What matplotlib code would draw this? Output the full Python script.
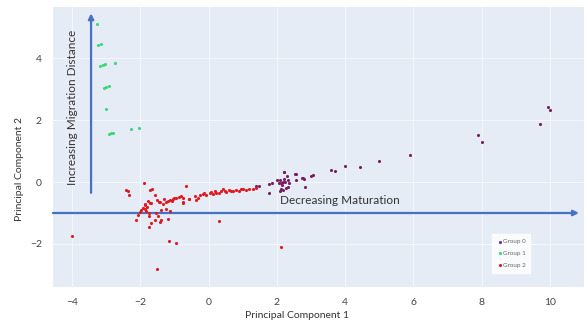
import matplotlib.pyplot as plt

plt.rcParams['font.family'] = ['Lato', 'DejaVu Sans']

# Group 0 (purple)
x0 = [9.94, 10.0, 9.70, 7.90, 8.00, 5.90, 4.98, 4.45, 4.01, 3.59, 3.70, 3.05, 3.00,
      2.81, 2.74, 2.56, 2.56, 2.29, 2.21, 2.34, 2.32, 2.17, 2.13, 2.82, 2.11, 1.39,
      1.49, 1.76, 1.78, 1.86, 2.08, 2.22, 2.54, 2.78, 2.37, 2.27, 2.17, 2.05, 2.10,
      2.15, 2.20, 2.25, 2.02]
y0 = [2.41, 2.32, 1.89, 1.53, 1.28, 0.88, 0.69, 0.49, 0.53, 0.38, 0.35, 0.23, 0.18,
      0.10, 0.13, 0.27, 0.06, 0.20, 0.33, 0.06, -0.15, 0.01, -0.04, -0.15, -0.23, -0.12,
      -0.12, -0.35, -0.06, -0.04, -0.29, 0.31, 0.26, 0.12, -0.02, -0.20, -0.26, -0.02, 0.05,
      -0.08, 0.10, 0.00, 0.08]

# Group 1 (green)
x1 = [-3.28, -3.24, -3.14, -3.17, -3.09, -3.02, -2.75, -3.06, -2.99, -2.92, -2.99,
      -2.91, -2.87, -2.80, -2.28, -2.05]
y1 = [5.12, 4.44, 4.47, 3.75, 3.77, 3.80, 3.83, 3.05, 3.07, 3.10, 2.35,
      1.55, 1.58, 1.60, 1.71, 1.76]

# Group 2 (red)
x2 = [-3.99, -2.43, -2.36, -2.34, -1.90, -1.70, -1.65, -1.58, -1.51, -1.43, -1.68, -1.87,
      -1.92, -1.97, -2.02, -2.07, -2.11, -1.87, -1.82, -1.73, -1.75, -1.53, -1.48, -1.38,
      -1.24, -1.14, -1.68, -1.58, -1.73, -1.43, -1.38, -1.19, -1.16, -0.96, -1.51, -1.29,
      -1.24, -1.19, -1.14, -1.04, -0.94, -0.85, -0.80, -0.75, -0.67, -0.75, -0.56, -0.41,
      -0.36, -0.26, -0.17, -0.07, 0.03, 0.13, 0.22, 0.32, 0.42, 0.52, 0.61, 0.71, 0.81,
      0.96, 1.10, 1.20, 1.30, 1.39, 0.30, 2.13, -1.71, -1.45, -0.75, -0.58, -1.80, -1.85,
      -1.78, 0.08, 0.18, 0.37, 0.47, 0.66, 0.88, 1.00, -0.12, -0.30, -1.06, -1.00, -1.34]
y2 = [-1.74, -0.26, -0.28, -0.42, -0.02, -0.26, -0.24, -0.42, -0.58, -0.66, -0.67, -0.74,
      -0.85, -0.90, -0.96, -1.06, -1.23, -0.88, -0.94, -1.01, -1.10, -1.01, -1.10, -0.90,
      -0.87, -0.94, -1.31, -1.23, -1.46, -1.28, -1.23, -1.20, -1.89, -1.98, -2.82, -0.56,
      -0.64, -0.60, -0.58, -0.56, -0.53, -0.47, -0.45, -0.53, -0.13, -0.64, -0.56, -0.45,
      -0.58, -0.42, -0.39, -0.42, -0.36, -0.40, -0.35, -0.36, -0.24, -0.31, -0.26, -0.28, -0.26,
      -0.24, -0.26, -0.24, -0.24, -0.20, -1.25, -2.09, -0.69, -0.66, -0.69, -0.56, -0.80, -0.70,
      -0.62, -0.33, -0.30, -0.30, -0.28, -0.30, -0.28, -0.22, -0.35, -0.50, -0.62, -0.50, -0.70]

xticks = [-4, -2, 0, 2, 4, 6, 8, 10]
yticks = [-2, 0, 2, 4]

fig = plt.figure(figsize=(5.87, 3.25), dpi=100)
ax = fig.add_axes([0.090, 0.117, 0.905, 0.861])
ax.set_facecolor('#E5ECF6')
for s in ax.spines.values():
    s.set_visible(False)
ax.grid(True, color='white', linewidth=0.5, alpha=0.8)
ax.set_axisbelow(True)

ax.scatter(x0, y0, s=5, color='#7A1F5E', label='Group 0', zorder=3, linewidths=0)
ax.scatter(x1, y1, s=5, color='#3DD77A', label='Group 1', zorder=3, linewidths=0)
ax.scatter(x2, y2, s=5, color='#E0191F', label='Group 2', zorder=3, linewidths=0)

ax.set_xlim(-4.56, 11.0)
ax.set_ylim(-3.39, 5.65)
ax.set_xticks(xticks)
ax.set_yticks(yticks)
ax.tick_params(length=0, labelsize=7.5, labelcolor='#444444', pad=8)

ax.set_xlabel('Principal Component 1', fontsize=7.5, color='#333333')
ax.set_ylabel('Principal Component 2', fontsize=7.5, color='#333333')
ax.xaxis.set_label_coords(0.46, -0.085)
ax.yaxis.set_label_coords(-0.055, 0.42)

# arrows
blue = '#4472C4'
ax.annotate('', xy=(10.85, -1.0), xytext=(-4.56, -1.0),
            arrowprops=dict(arrowstyle='-|>', color=blue, lw=1.6, mutation_scale=8,
                            shrinkA=0, shrinkB=0), zorder=2)
ax.annotate('', xy=(-3.44, 5.45), xytext=(-3.44, -0.35),
            arrowprops=dict(arrowstyle='-|>', color=blue, lw=1.6, mutation_scale=8,
                            shrinkA=0, shrinkB=0), zorder=2)
ax.text(3.86, -0.61, 'Decreasing Maturation', fontsize=8.5, color='#333333',
        ha='center', va='center')
ax.text(-3.98, 2.42, 'Increasing Migration Distance', fontsize=8.5, color='#333333',
        ha='center', va='center', rotation=90)

leg = ax.legend(loc='lower right', bbox_to_anchor=(0.905, 0.04), fontsize=4.5,
                frameon=True, fancybox=False, markerscale=1.0, handletextpad=0.1,
                handlelength=0.8, borderpad=0.8, labelspacing=1.0)
leg.get_frame().set_edgecolor('white')
leg.get_frame().set_facecolor('white')
leg.legend_handles[0].set_color('#6F2DA8')
for t in leg.get_texts():
    t.set_color('#666666')

fig.savefig('out.png', dpi=100)
